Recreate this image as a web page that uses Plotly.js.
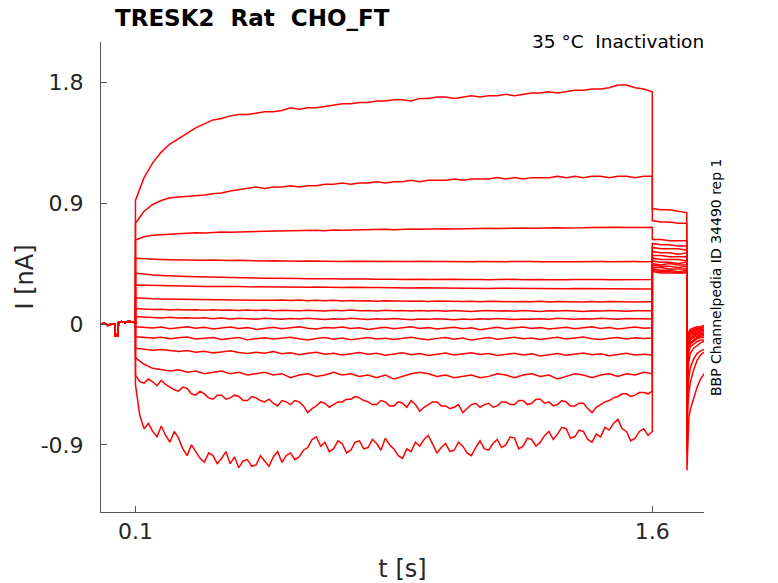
<!DOCTYPE html>
<html>
<head>
<meta charset="utf-8">
<script src="https://cdn.plot.ly/plotly-3.0.1.min.js"></script>
<style>html,body{margin:0;padding:0;background:#fff;}#chart{width:778px;height:583px;}</style>
</head>
<body>
<div id="chart"></div>
<script>
// ---- time bases (s) ----
const preT = [0, 0.01, 0.02, 0.03, 0.04, 0.042, 0.048, 0.051, 0.06, 0.07, 0.08, 0.09, 0.1];
const preI = [0.0, 0.005, -0.01, 0.0, 0.002, -0.09, -0.09, 0.012, 0.018, 0.01, 0.02, 0.015, 0.01];
const tMain = [0.1,0.125,0.15,0.175,0.2,0.225,0.25,0.275,0.3,0.325,0.35,0.375,0.4,0.425,0.45,0.475,0.5,0.525,0.55,0.575,0.6,0.625,0.65,0.675,0.7,0.725,0.75,0.775,0.8,0.825,0.85,0.875,0.9,0.925,0.95,0.975,1.0,1.025,1.05,1.075,1.1,1.125,1.15,1.175,1.2,1.225,1.25,1.275,1.3,1.325,1.35,1.375,1.4,1.425,1.45,1.475,1.5,1.525,1.55,1.575,1.6];
const tFine = [0.1,0.1125,0.125,0.1375,0.15,0.1625,0.175,0.1875,0.2,0.2125,0.225,0.2375,0.25,0.2625,0.275,0.2875,0.3,0.3125,0.325,0.3375,0.35,0.3625,0.375,0.3875,0.4,0.4125,0.425,0.4375,0.45,0.4625,0.475,0.4875,0.5,0.5125,0.525,0.5375,0.55,0.5625,0.575,0.5875,0.6,0.6125,0.625,0.6375,0.65,0.6625,0.675,0.6875,0.7,0.7125,0.725,0.7375,0.75,0.7625,0.775,0.7875,0.8,0.8125,0.825,0.8375,0.85,0.8625,0.875,0.8875,0.9,0.9125,0.925,0.9375,0.95,0.9625,0.975,0.9875,1.0,1.0125,1.025,1.0375,1.05,1.0625,1.075,1.0875,1.1,1.1125,1.125,1.1375,1.15,1.1625,1.175,1.1875,1.2,1.2125,1.225,1.2375,1.25,1.2625,1.275,1.2875,1.3,1.3125,1.325,1.3375,1.35,1.3625,1.375,1.3875,1.4,1.4125,1.425,1.4375,1.45,1.4625,1.475,1.4875,1.5,1.5125,1.525,1.5375,1.55,1.5625,1.575,1.5875,1.6];
const tailT = [1.6, 1.625, 1.65, 1.675, 1.7];
const postT = [1.7005, 1.703, 1.706, 1.71, 1.72, 1.73, 1.74, 1.75];

// ---- current during conditioning step (nA) ----
const i1 = [0.92,1.09,1.20,1.28,1.34,1.38,1.42,1.46,1.49,1.52,1.53,1.55,1.56,1.56,1.57,1.58,1.58,1.59,1.61,1.60,1.61,1.61,1.62,1.63,1.64,1.64,1.65,1.65,1.66,1.66,1.67,1.67,1.66,1.68,1.68,1.69,1.69,1.68,1.69,1.70,1.69,1.70,1.70,1.71,1.70,1.71,1.72,1.72,1.73,1.72,1.73,1.74,1.74,1.75,1.75,1.76,1.78,1.78,1.76,1.75,1.73];
const i2 = [0.75,0.84,0.89,0.92,0.94,0.945,0.95,0.95,0.96,0.97,0.975,0.99,1.00,1.01,1.02,1.01,1.02,1.02,1.03,1.02,1.03,1.03,1.04,1.04,1.05,1.04,1.05,1.05,1.06,1.05,1.06,1.06,1.07,1.06,1.07,1.07,1.07,1.08,1.07,1.08,1.08,1.08,1.09,1.08,1.09,1.08,1.09,1.09,1.09,1.10,1.09,1.10,1.09,1.10,1.10,1.09,1.10,1.10,1.09,1.10,1.10];
const i3 = [0.625,0.65,0.66,0.665,0.67,0.672,0.675,0.68,0.678,0.683,0.685,0.684,0.687,0.69,0.688,0.69,0.692,0.69,0.695,0.693,0.696,0.698,0.695,0.70,0.698,0.70,0.702,0.70,0.703,0.705,0.702,0.705,0.707,0.705,0.708,0.706,0.71,0.708,0.71,0.712,0.71,0.713,0.711,0.714,0.712,0.715,0.713,0.716,0.714,0.717,0.715,0.718,0.716,0.718,0.72,0.717,0.72,0.718,0.721,0.719,0.72];
const i4 = [0.49,0.485,0.482,0.48,0.478,0.476,0.477,0.475,0.474,0.476,0.473,0.472,0.474,0.471,0.472,0.47,0.471,0.469,0.471,0.468,0.47,0.468,0.467,0.469,0.466,0.468,0.467,0.465,0.467,0.466,0.464,0.466,0.465,0.467,0.464,0.466,0.465,0.463,0.466,0.464,0.465,0.463,0.465,0.464,0.466,0.463,0.465,0.464,0.462,0.465,0.463,0.464,0.466,0.463,0.465,0.464,0.466,0.463,0.465,0.464,0.465];
const i5 = [0.38,0.37,0.365,0.362,0.358,0.356,0.354,0.352,0.35,0.349,0.347,0.346,0.344,0.345,0.342,0.341,0.34,0.341,0.338,0.339,0.337,0.338,0.336,0.337,0.335,0.336,0.334,0.335,0.333,0.335,0.334,0.332,0.334,0.333,0.331,0.333,0.332,0.334,0.331,0.333,0.332,0.33,0.332,0.331,0.333,0.33,0.332,0.331,0.329,0.332,0.33,0.331,0.333,0.33,0.332,0.33,0.331,0.329,0.331,0.33,0.331];
const i6 = [0.29,0.288,0.286,0.285,0.283,0.284,0.282,0.281,0.28,0.281,0.279,0.278,0.279,0.277,0.276,0.278,0.275,0.276,0.274,0.276,0.273,0.275,0.272,0.274,0.271,0.273,0.27,0.272,0.271,0.269,0.271,0.27,0.268,0.27,0.269,0.267,0.269,0.268,0.266,0.268,0.267,0.265,0.267,0.266,0.264,0.266,0.265,0.263,0.265,0.264,0.262,0.264,0.263,0.261,0.263,0.262,0.26,0.262,0.261,0.26,0.261];
const i7 = [0.195,0.19,0.188,0.186,0.185,0.187,0.183,0.184,0.181,0.183,0.18,0.182,0.178,0.18,0.177,0.179,0.176,0.178,0.175,0.178,0.174,0.176,0.173,0.176,0.172,0.175,0.171,0.174,0.17,0.173,0.17,0.172,0.169,0.172,0.168,0.171,0.168,0.17,0.167,0.17,0.166,0.169,0.167,0.17,0.166,0.168,0.165,0.169,0.164,0.167,0.165,0.168,0.163,0.167,0.164,0.168,0.165,0.167,0.164,0.166,0.165];
const i8 = [0.115,0.11,0.108,0.11,0.105,0.108,0.104,0.107,0.103,0.106,0.102,0.105,0.101,0.105,0.1,0.104,0.099,0.103,0.1,0.098,0.103,0.1,0.097,0.102,0.099,0.104,0.098,0.101,0.097,0.102,0.098,0.1,0.096,0.101,0.097,0.1,0.095,0.1,0.097,0.093,0.098,0.1,0.096,0.099,0.095,0.1,0.097,0.094,0.099,0.096,0.1,0.097,0.094,0.098,0.096,0.1,0.097,0.095,0.099,0.097,0.098];
const i9 = [0.055,0.05,0.048,0.045,0.05,0.044,0.047,0.042,0.046,0.04,0.045,0.038,0.043,0.04,0.036,0.042,0.039,0.035,0.041,0.037,0.043,0.038,0.034,0.04,0.036,0.042,0.038,0.033,0.039,0.036,0.041,0.037,0.032,0.038,0.035,0.04,0.036,0.031,0.037,0.034,0.039,0.035,0.041,0.037,0.033,0.038,0.035,0.04,0.036,0.042,0.038,0.035,0.04,0.037,0.043,0.039,0.036,0.041,0.038,0.04,0.037];
const i10 = [-0.02,-0.025,-0.03,-0.022,-0.035,-0.028,-0.02,-0.032,-0.025,-0.038,-0.03,-0.022,-0.033,-0.027,-0.04,-0.03,-0.024,-0.035,-0.028,-0.02,-0.032,-0.037,-0.026,-0.03,-0.022,-0.034,-0.028,-0.04,-0.031,-0.025,-0.036,-0.029,-0.021,-0.033,-0.027,-0.038,-0.03,-0.024,-0.035,-0.028,-0.042,-0.032,-0.025,-0.036,-0.03,-0.022,-0.034,-0.027,-0.038,-0.03,-0.024,-0.035,-0.028,-0.021,-0.033,-0.026,-0.037,-0.029,-0.023,-0.031,-0.028];
const i11 = [-0.095,-0.1,-0.105,-0.098,-0.11,-0.103,-0.097,-0.112,-0.105,-0.1,-0.115,-0.107,-0.1,-0.118,-0.108,-0.102,-0.112,-0.105,-0.098,-0.11,-0.12,-0.108,-0.1,-0.113,-0.105,-0.117,-0.108,-0.1,-0.112,-0.106,-0.115,-0.104,-0.098,-0.11,-0.118,-0.107,-0.1,-0.113,-0.105,-0.12,-0.109,-0.101,-0.114,-0.106,-0.098,-0.11,-0.104,-0.116,-0.107,-0.099,-0.112,-0.105,-0.097,-0.109,-0.115,-0.106,-0.1,-0.111,-0.103,-0.108,-0.105];
const i12 = [-0.18,-0.19,-0.195,-0.19,-0.2,-0.205,-0.198,-0.21,-0.203,-0.215,-0.208,-0.2,-0.213,-0.22,-0.21,-0.218,-0.205,-0.222,-0.215,-0.228,-0.218,-0.21,-0.225,-0.217,-0.23,-0.22,-0.212,-0.226,-0.218,-0.232,-0.222,-0.215,-0.228,-0.22,-0.235,-0.224,-0.216,-0.23,-0.222,-0.214,-0.227,-0.22,-0.235,-0.225,-0.218,-0.23,-0.222,-0.238,-0.228,-0.219,-0.232,-0.224,-0.216,-0.229,-0.221,-0.236,-0.226,-0.218,-0.231,-0.225,-0.23];
const i13 = [-0.25,-0.30,-0.33,-0.34,-0.35,-0.34,-0.36,-0.35,-0.37,-0.36,-0.35,-0.37,-0.36,-0.38,-0.37,-0.36,-0.38,-0.37,-0.40,-0.38,-0.37,-0.39,-0.38,-0.36,-0.38,-0.37,-0.39,-0.38,-0.40,-0.38,-0.41,-0.39,-0.37,-0.36,-0.37,-0.39,-0.38,-0.40,-0.39,-0.38,-0.40,-0.39,-0.37,-0.38,-0.40,-0.38,-0.37,-0.39,-0.38,-0.41,-0.39,-0.37,-0.38,-0.40,-0.38,-0.37,-0.39,-0.37,-0.38,-0.36,-0.37];
// the two noisiest sweeps are read on the finer tFine grid
const i14 = [-0.38,-0.43,-0.44,-0.41,-0.43,-0.46,-0.42,-0.45,-0.47,-0.49,-0.50,-0.47,-0.48,-0.52,-0.53,-0.50,-0.52,-0.55,-0.56,-0.53,-0.53,-0.56,-0.55,-0.53,-0.54,-0.57,-0.57,-0.54,-0.55,-0.57,-0.58,-0.56,-0.59,-0.61,-0.57,-0.58,-0.60,-0.57,-0.58,-0.61,-0.66,-0.63,-0.61,-0.58,-0.59,-0.62,-0.60,-0.58,-0.58,-0.56,-0.56,-0.54,-0.55,-0.57,-0.58,-0.60,-0.60,-0.57,-0.58,-0.61,-0.61,-0.58,-0.59,-0.62,-0.57,-0.60,-0.65,-0.62,-0.60,-0.58,-0.58,-0.61,-0.61,-0.63,-0.62,-0.60,-0.66,-0.63,-0.60,-0.59,-0.62,-0.60,-0.59,-0.62,-0.61,-0.58,-0.58,-0.60,-0.60,-0.57,-0.57,-0.60,-0.59,-0.56,-0.56,-0.59,-0.58,-0.61,-0.60,-0.57,-0.58,-0.61,-0.61,-0.59,-0.59,-0.63,-0.66,-0.62,-0.60,-0.58,-0.57,-0.55,-0.54,-0.52,-0.52,-0.54,-0.53,-0.51,-0.51,-0.52,-0.50];
const i15 = [-0.45,-0.68,-0.78,-0.74,-0.80,-0.84,-0.76,-0.83,-0.88,-0.80,-0.85,-0.93,-0.98,-0.90,-0.95,-1.00,-1.03,-0.96,-0.98,-1.04,-1.00,-0.95,-1.04,-0.99,-1.07,-1.02,-1.01,-1.06,-1.05,-0.98,-1.02,-1.06,-0.99,-0.95,-1.03,-0.98,-0.96,-1.01,-0.99,-0.94,-0.92,-0.86,-0.84,-0.91,-0.88,-0.95,-0.93,-0.87,-0.89,-0.96,-0.94,-0.88,-0.87,-0.93,-0.92,-0.86,-0.89,-0.94,-0.85,-0.90,-0.93,-0.98,-1.00,-0.93,-0.95,-0.88,-0.91,-0.86,-0.83,-0.90,-0.96,-0.92,-0.89,-0.95,-0.94,-0.88,-0.91,-0.96,-0.98,-0.92,-0.87,-0.93,-0.94,-0.89,-0.86,-0.92,-0.90,-0.84,-0.85,-0.93,-0.91,-0.85,-0.86,-0.91,-0.88,-0.83,-0.80,-0.86,-0.82,-0.77,-0.78,-0.85,-0.84,-0.79,-0.80,-0.86,-0.88,-0.82,-0.84,-0.77,-0.79,-0.74,-0.71,-0.78,-0.80,-0.87,-0.85,-0.80,-0.78,-0.83,-0.80];

// ---- current during test pulse (nA) ----
const tail1 = [0.86,0.85,0.85,0.84,0.83];
const tail2 = [0.77,0.76,0.76,0.75,0.75];
const tail3 = [0.63,0.63,0.62,0.62,0.62];
const tail4 = [0.60,0.59,0.59,0.58,0.58];
const tail5 = [0.57,0.56,0.56,0.56,0.55];
const tail6 = [0.54,0.53,0.53,0.52,0.53];
const tail7 = [0.51,0.51,0.50,0.50,0.50];
const tail8 = [0.49,0.48,0.48,0.48,0.47];
const tail9 = [0.47,0.46,0.46,0.45,0.46];
const tail10 = [0.45,0.44,0.45,0.44,0.44];
const tail11 = [0.44,0.43,0.43,0.42,0.43];
const tail12 = [0.42,0.42,0.41,0.41,0.41];
const tail13 = [0.41,0.40,0.40,0.39,0.40];
const tail14 = [0.40,0.39,0.39,0.38,0.39];
const tail15 = [0.39,0.38,0.38,0.38,0.38];

// ---- current after test pulse (nA) ----
const post1 = [-0.55,-0.12,-0.06,-0.04,-0.03,-0.02,-0.02,-0.01];
const post2 = [-0.58,-0.14,-0.08,-0.05,-0.04,-0.03,-0.03,-0.02];
const post3 = [-0.6,-0.16,-0.09,-0.06,-0.05,-0.04,-0.03,-0.03];
const post4 = [-0.62,-0.18,-0.1,-0.07,-0.06,-0.05,-0.04,-0.04];
const post5 = [-0.64,-0.2,-0.12,-0.08,-0.07,-0.06,-0.05,-0.05];
const post6 = [-0.66,-0.21,-0.13,-0.1,-0.08,-0.07,-0.06,-0.06];
const post7 = [-0.68,-0.22,-0.14,-0.11,-0.09,-0.08,-0.07,-0.07];
const post8 = [-0.7,-0.24,-0.16,-0.12,-0.1,-0.09,-0.08,-0.08];
const post9 = [-0.72,-0.25,-0.17,-0.14,-0.12,-0.1,-0.09,-0.09];
const post10 = [-0.74,-0.27,-0.19,-0.15,-0.13,-0.11,-0.1,-0.1];
const post11 = [-0.76,-0.29,-0.21,-0.17,-0.15,-0.13,-0.12,-0.12];
const post12 = [-0.8,-0.36,-0.28,-0.22,-0.18,-0.16,-0.14,-0.13];
const post13 = [-0.85,-0.5,-0.4,-0.33,-0.26,-0.22,-0.2,-0.19];
const post14 = [-0.95,-0.62,-0.52,-0.44,-0.34,-0.27,-0.23,-0.21];
const post15 = [-1.09,-0.8,-0.7,-0.64,-0.55,-0.47,-0.41,-0.37];

const yTickVals = [-0.9, 0, 0.9, 1.8];
const yTickText = ['-0.9', '0', '0.9', '1.8'];
const xTickVals = [0.1, 1.6];
const xTickText = ['0.1', '1.6'];

const mains = [i1,i2,i3,i4,i5,i6,i7,i8,i9,i10,i11,i12,i13,i14,i15];
const mainTimes = [tMain,tMain,tMain,tMain,tMain,tMain,tMain,tMain,tMain,tMain,tMain,tMain,tMain,tFine,tFine];
const tails = [tail1,tail2,tail3,tail4,tail5,tail6,tail7,tail8,tail9,tail10,tail11,tail12,tail13,tail14,tail15];
const posts = [post1,post2,post3,post4,post5,post6,post7,post8,post9,post10,post11,post12,post13,post14,post15];

const traces = mains.map((m, k) => ({
  type: 'scatter', mode: 'lines',
  x: preT.concat(mainTimes[k], tailT, postT),
  y: preI.concat(m, tails[k], posts[k]),
  line: {color: '#ff0000', width: 1.5},
  hoverinfo: 'skip', showlegend: false
}));

const F = 'DejaVu Sans, sans-serif';
const layout = {
  width: 778, height: 583,
  margin: {l: 101, r: 74, t: 42, b: 71},
  paper_bgcolor: '#fff', plot_bgcolor: '#fff',
  showlegend: false,
  font: {family: F, color: '#262626'},
  xaxis: {
    range: [0, 1.75], tickvals: xTickVals, ticktext: xTickText,
    ticks: 'inside', ticklen: 6, tickcolor: '#555', tickwidth: 1,
    showline: true, linecolor: '#555', linewidth: 1,
    showgrid: false, zeroline: false,
    tickfont: {family: F, size: 22, color: '#262626'},
    ticklabelstandoff: 0,
    title: {text: 't [s]', font: {family: F, size: 24, color: '#262626'}, standoff: 16}
  },
  yaxis: {
    range: [-1.4, 2.1], tickvals: yTickVals, ticktext: yTickText,
    ticks: 'inside', ticklen: 6, tickcolor: '#555', tickwidth: 1,
    showline: true, linecolor: '#555', linewidth: 1,
    showgrid: false, zeroline: false,
    tickfont: {family: F, size: 22, color: '#262626'},
    ticklabelstandoff: 12,
    title: {text: 'I [nA]', font: {family: F, size: 24, color: '#262626'}, standoff: 0}
  },
  annotations: [
    {text: '<b>TRESK2  Rat  CHO_FT</b>', xref: 'paper', yref: 'paper',
     x: 0.02, y: 1.051, xanchor: 'left', yanchor: 'middle', showarrow: false,
     font: {family: F, size: 23, color: '#000'}},
    {text: '35 °C  Inactivation', xref: 'paper', yref: 'paper',
     x: 1.003, y: 1.002, xanchor: 'right', yanchor: 'middle', showarrow: false,
     font: {family: F, size: 18.5, color: '#000'}},
    {text: 'BBP Channelpedia ID 34490 rep 1', xref: 'paper', yref: 'paper',
     x: 1.02, y: 0.5, xanchor: 'center', yanchor: 'middle', textangle: -90, showarrow: false,
     font: {family: F, size: 14, color: '#000'}}
  ]
};

Plotly.newPlot('chart', traces, layout, {displayModeBar: false, staticPlot: true});
</script>
</body>
</html>
